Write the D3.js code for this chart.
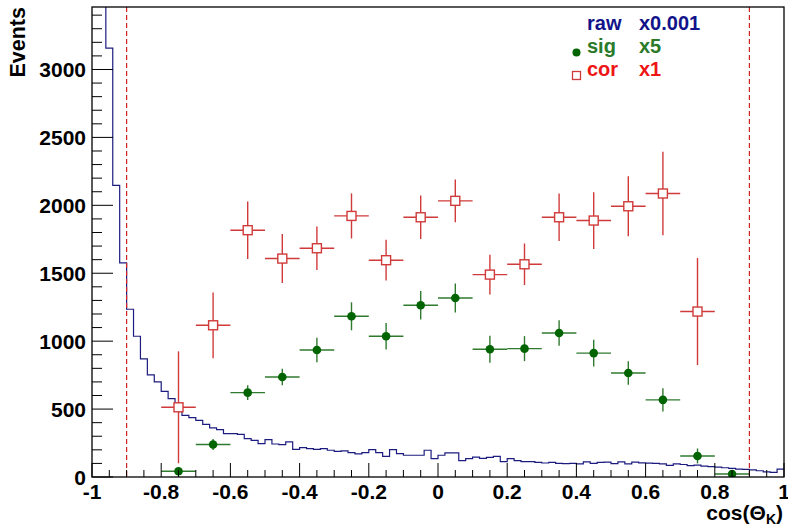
<!DOCTYPE html>
<html lang="en">
<head>
<meta charset="UTF-8">
<title>cos(Theta_K)</title>
<script src="https://cdn.jsdelivr.net/npm/d3@7"></script>
<style>
  body { margin: 0; background: #fff; }
  svg text { font-family: "Liberation Sans", Arial, sans-serif; font-weight: bold; }
</style>
</head>
<body>
<svg width="788" height="526"></svg>
<script>
  // raw histogram (already scaled x0.001), 100 bins of 0.02 from -1
  const rawLow = -1, rawWidth = 0.02;
  const rawValues = [
    5200, 3900, 3157, 2147, 1576, 1235, 1036, 869, 752, 700,
    631, 577, 528, 454, 437, 417, 388, 361, 349, 320,
    320, 314, 283, 270, 246, 275, 243, 238, 258, 204,
    216, 209, 204, 209, 197, 189, 192, 179, 170, 179,
    202, 179, 152, 202, 172, 160, 160, 160, 197, 135,
    160, 177, 177, 120, 135, 147, 137, 145, 152, 113,
    135, 120, 113, 113, 108, 103, 108, 100, 98, 100,
    96, 112, 100, 108, 110, 98, 112, 96, 110, 104,
    102, 100, 96, 86, 96, 92, 84, 88, 80, 76,
    72, 68, 64, 58, 56, 52, 46, 38, 34, 58
  ];

  // sig (x5), bins of 0.1
  const sigX   = [-0.75, -0.65, -0.55, -0.45, -0.35, -0.25, -0.15, -0.05, 0.05, 0.15, 0.25, 0.35, 0.45, 0.55, 0.65, 0.75, 0.85];
  const sigY   = [42, 239, 621, 736, 935, 1183, 1036, 1264, 1318, 940, 945, 1060, 912, 766, 568, 155, 22];
  const sigErr = [15, 40, 55, 60, 90, 103, 98, 105, 107, 99, 92, 94, 98, 87, 86, 55, 15];

  // cor (x1)
  const corX   = [-0.75, -0.65, -0.55, -0.45, -0.35, -0.25, -0.15, -0.05, 0.05, 0.15, 0.25, 0.35, 0.45, 0.55, 0.65, 0.75];
  const corY   = [513, 1117, 1817, 1608, 1684, 1922, 1596, 1912, 2033, 1490, 1566, 1912, 1888, 1993, 2087, 1218];
  const corErr = [412, 242, 212, 180, 160, 166, 150, 160, 158, 147, 153, 175, 209, 221, 308, 394];

  const halfBin = 0.05;
  const cutLines = [-0.9, 0.9];

  const yTicks = [0, 500, 1000, 1500, 2000, 2500, 3000];
  const xTicks = [-1, -0.8, -0.6, -0.4, -0.2, 0, 0.2, 0.4, 0.6, 0.8, 1];

  const legend = [
    { name: "raw", factor: "x0.001", color: "#12128a", marker: "none" },
    { name: "sig", factor: "x5", color: "#2a7a2a", marker: "circle" },
    { name: "cor", factor: "x1", color: "#ee1515", marker: "square" }
  ];

  const navy = "#1c1c80", green = "#006400", red = "#d03a3a";

  const pLeft = 92, pRight = 784, pTop = 7, pBottom = 477;
  const svg = d3.select("svg");

  const x = d3.scaleLinear().domain([-1, 1]).range([pLeft, pRight]);
  const y = d3.scaleLinear().domain([0, 3460]).range([pBottom, pTop]);

  svg.append("clipPath").attr("id", "clip")
    .append("rect").attr("x", pLeft).attr("y", pTop).attr("width", pRight - pLeft).attr("height", pBottom - pTop);

  const plot = svg.append("g").attr("clip-path", "url(#clip)");

  // raw histogram as step line
  const steps = rawValues.map((v, i) => [rawLow + i * rawWidth, v]);
  steps.push([1, rawValues[rawValues.length - 1]]);
  plot.append("path")
    .attr("d", d3.line().x(d => x(d[0])).y(d => y(d[1])).curve(d3.curveStepAfter)(steps))
    .attr("fill", "none").attr("stroke", navy).attr("stroke-width", 1.2);

  // cut lines
  plot.selectAll(".cut").data(cutLines).join("line")
    .attr("x1", d => x(d)).attr("x2", d => x(d))
    .attr("y1", pTop).attr("y2", pBottom)
    .attr("stroke", "#cc2222").attr("stroke-width", 1.2).attr("stroke-dasharray", "5,3");

  // error bars helper
  function errorBars(xs, ys, es, color) {
    const g = plot.append("g").attr("stroke", color).attr("stroke-width", 1.4);
    xs.forEach((cx, i) => {
      g.append("line").attr("x1", x(cx - halfBin)).attr("x2", x(cx + halfBin))
        .attr("y1", y(ys[i])).attr("y2", y(ys[i]));
      g.append("line").attr("x1", x(cx)).attr("x2", x(cx))
        .attr("y1", y(ys[i] - es[i])).attr("y2", y(ys[i] + es[i]));
    });
  }

  errorBars(corX, corY, corErr, red);
  errorBars(sigX, sigY, sigErr, "#2f7a2f");

  plot.selectAll(".cor").data(corX).join("rect")
    .attr("x", (d) => x(d) - 4.5).attr("y", (d, i) => y(corY[i]) - 4.5)
    .attr("width", 9).attr("height", 9)
    .attr("fill", "#fff").attr("stroke", red).attr("stroke-width", 1.4);

  plot.selectAll(".sig").data(sigX).join("circle")
    .attr("cx", d => x(d)).attr("cy", (d, i) => y(sigY[i]))
    .attr("r", 4.3).attr("fill", green);

  // frame
  svg.append("rect").attr("x", pLeft).attr("y", pTop).attr("width", pRight - pLeft).attr("height", pBottom - pTop)
    .attr("fill", "none").attr("stroke", "#000").attr("stroke-width", 1.3);

  // y ticks (inward)
  const yMinor = d3.range(0, 3460, 100);
  svg.append("g").selectAll("line").data(yMinor).join("line")
    .attr("x1", pLeft).attr("x2", d => pLeft + (d % 500 === 0 ? 21 : 10))
    .attr("y1", d => y(d)).attr("y2", d => y(d))
    .attr("stroke", "#000").attr("stroke-width", 1);

  svg.append("g").selectAll("text").data(yTicks).join("text")
    .attr("x", pLeft - 6).attr("y", d => y(d) + 7.5)
    .attr("text-anchor", "end").attr("font-size", 21)
    .text(d => d);

  // x ticks (inward)
  const xMinor = d3.range(-20, 21).map(i => i * 0.05);
  svg.append("g").selectAll("line").data(xMinor).join("line")
    .attr("x1", d => x(d)).attr("x2", d => x(d))
    .attr("y1", pBottom).attr("y2", d => pBottom - (Math.abs(Math.round(d * 100)) % 20 === 0 ? 14 : 7))
    .attr("stroke", "#000").attr("stroke-width", 1);

  svg.append("g").selectAll("text").data(xTicks).join("text")
    .attr("x", d => x(d)).attr("y", 499)
    .attr("text-anchor", "middle").attr("font-size", 21)
    .text(d => String(d));

  // axis titles
  svg.append("text")
    .attr("transform", `translate(25,${pTop}) rotate(-90)`)
    .attr("text-anchor", "end").attr("font-size", 21.5)
    .text("Events");

  const xt = svg.append("text")
    .attr("x", pRight - 1).attr("y", 520)
    .attr("text-anchor", "end").attr("font-size", 21);
  xt.append("tspan").text("cos(\u0398");
  xt.append("tspan").attr("font-size", 14).attr("dy", 4).text("K");
  xt.append("tspan").attr("dy", -4).text(")");

  // legend
  const lg = svg.append("g");
  legend.forEach((d, i) => {
    const by = 30 + i * 23;
    lg.append("text").attr("x", 587).attr("y", by).attr("fill", d.color).attr("font-size", 20).text(d.name);
    lg.append("text").attr("x", 639).attr("y", by).attr("fill", d.color).attr("font-size", 20).text(d.factor);
    if (d.marker === "circle") {
      lg.append("circle").attr("cx", 576.5).attr("cy", by - 0.5).attr("r", 4).attr("fill", green);
    } else if (d.marker === "square") {
      lg.append("rect").attr("x", 572.5).attr("y", by - 4.5).attr("width", 8).attr("height", 8)
        .attr("fill", "#fff").attr("stroke", red).attr("stroke-width", 1.3);
    }
  });
</script>
</body>
</html>
